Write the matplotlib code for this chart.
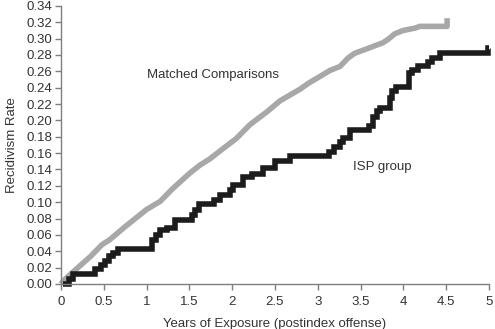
import matplotlib
matplotlib.use("Agg")
import matplotlib.pyplot as plt

plt.rcParams['font.family'] = ['Liberation Sans', 'DejaVu Sans']

# ISP group (step curve)
isp_years = [0.03, 0.10, 0.14, 0.40, 0.47, 0.51, 0.56, 0.61, 0.67, 1.06, 1.11, 1.16,
             1.24, 1.33, 1.53, 1.57, 1.61, 1.79, 1.86, 1.97, 2.01, 2.13, 2.23, 2.36,
             2.50, 2.68, 3.13, 3.19, 3.26, 3.30, 3.38, 3.60, 3.65, 3.69, 3.73, 3.84,
             3.87, 3.91, 4.07, 4.10, 4.17, 4.29, 4.33, 4.43, 4.99, 5.00]
isp_rate = [0.000, 0.006, 0.012, 0.018, 0.023, 0.028, 0.034, 0.038, 0.043, 0.054, 0.060, 0.066,
            0.069, 0.078, 0.084, 0.090, 0.098, 0.103, 0.109, 0.115, 0.121, 0.131, 0.135, 0.142,
            0.150, 0.157, 0.161, 0.167, 0.173, 0.179, 0.188, 0.193, 0.204, 0.212, 0.215, 0.228,
            0.236, 0.241, 0.258, 0.262, 0.267, 0.272, 0.276, 0.283, 0.289, 0.289]

# Matched comparisons
mc_years = [0, 0.05, 0.2, 0.35, 0.48, 0.57, 0.75, 1.0, 1.16, 1.3, 1.5, 1.62, 1.74, 1.9, 2.05,
            2.21, 2.4, 2.56, 2.79, 2.9, 3.03, 3.14, 3.26, 3.35, 3.43, 3.61, 3.76, 3.82,
            3.9, 4.0, 4.14, 4.19, 4.51, 4.51]
mc_rate = [0, 0.006, 0.020, 0.034, 0.048, 0.054, 0.070, 0.091, 0.101, 0.116, 0.135, 0.145,
           0.153, 0.166, 0.178, 0.195, 0.210, 0.224, 0.238, 0.246, 0.254, 0.261, 0.266,
           0.276, 0.282, 0.289, 0.295, 0.299, 0.306, 0.310, 0.313, 0.315, 0.315, 0.325]

x_ticks = [0, 0.5, 1, 1.5, 2, 2.5, 3, 3.5, 4, 4.5, 5]
x_tick_labels = ["0", "0.5", "1", "1.5", "2", "2.5", "3", "3.5", "4", "4.5", "5"]
y_ticks = [i * 0.02 for i in range(18)]

fig = plt.figure(figsize=(4.95, 3.29), dpi=100)
ax = fig.add_axes([0.123, 0.137, 0.865, 0.845])

ax.plot(mc_years, mc_rate, color='#a8a8a8', linewidth=4.0, solid_joinstyle='round',
        solid_capstyle='butt', clip_on=False)
ax.plot(isp_years, isp_rate, color='#1c1c1c', linewidth=4.0, drawstyle='steps-post',
        solid_joinstyle='miter', solid_capstyle='butt', clip_on=False)

ax.set_xlim(0, 5)
ax.set_ylim(0, 0.34)
ax.set_xticks(x_ticks)
ax.set_xticklabels(x_tick_labels)
ax.set_yticks(y_ticks)
ax.set_yticklabels([f"{v:.2f}" for v in y_ticks])

for s in ['top', 'right']:
    ax.spines[s].set_visible(False)
for s in ['left', 'bottom']:
    ax.spines[s].set_color('#7f7f7f')
    ax.spines[s].set_linewidth(1.0)
ax.tick_params(axis='both', direction='out', length=4, width=1, color='#7f7f7f',
               labelsize=9.5, labelcolor='#333333', pad=2)
ax.tick_params(axis='x', pad=5)

ax.set_xlabel("Years of Exposure (postindex offense)", fontsize=9.5, color='#333333', labelpad=7)
ax.set_ylabel("Recidivism Rate", fontsize=9.5, color='#333333', labelpad=6)

ax.text(1.0, 0.255, "Matched Comparisons", fontsize=9.5, color='#333333', va='center', ha='left')
ax.text(3.41, 0.143, "ISP group", fontsize=9.5, color='#333333', va='center', ha='left')

fig.savefig("out.png", dpi=100)
